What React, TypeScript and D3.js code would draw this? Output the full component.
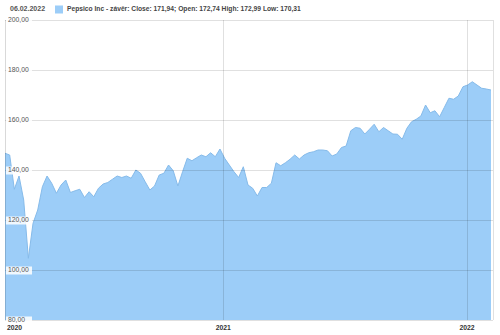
import React from "react";
import * as d3 from "d3";

const values: number[] = [
  146.7, 146.0, 132.3, 137.6, 128.0, 104.7, 118.7, 124.0, 133.3, 137.6,
  134.7, 130.7, 134.0, 136.0, 131.0, 131.7, 132.3, 129.0, 131.3, 129.3,
  132.7, 134.4, 135.0, 136.3, 137.6, 137.0, 137.6, 136.7, 140.0, 138.7,
  135.3, 132.0, 133.6, 138.0, 138.7, 142.0, 139.7, 133.6, 139.3, 144.7,
  143.7, 144.9, 146.0, 145.3, 146.9, 145.3, 148.4, 144.7, 142.0, 139.3,
  137.0, 141.3, 134.0, 132.7, 129.6, 133.0, 133.0, 134.7, 142.9, 141.7,
  142.9, 144.3, 146.0, 144.4, 146.0, 146.9, 147.3, 148.0, 148.0, 147.7,
  145.6, 146.4, 149.0, 149.6, 155.7, 157.0, 156.7, 154.4, 156.3, 158.3,
  155.3, 157.0, 155.7, 154.4, 154.3, 152.3, 156.7, 159.3, 160.3, 161.6,
  166.0, 162.9, 163.7, 161.3, 165.0, 168.7, 168.3, 169.6, 173.3, 174.0,
  175.3, 174.0, 172.7, 172.4, 172.0,
];
const startDate = new Date(2020, 1, 9);
const domainEnd = new Date(2022, 1, 9);
const yTicks: number[] = [200, 180, 160, 140, 120, 100, 80];
const yearTicks: Date[] = [new Date(2020, 0, 1), new Date(2021, 0, 1), new Date(2022, 0, 1)];
const yearLabels: string[] = ["2020", "2021", "2022"];
const legendDate = "06.02.2022";
const legendText = "Pepsico Inc - závěr: Close: 171,94; Open: 172,74 High: 172,99 Low: 170,31";

const data = values.map((v, i) => ({ date: d3.timeWeek.offset(startDate, i), value: v }));

const W = 500, H = 335;
const left = 5, right = 493, top = 20, bottom = 320;
const font = "'Liberation Sans', Arial, sans-serif";

export default function App() {
  const x = d3.scaleTime().domain([startDate, domainEnd]).range([left, right]);
  const y = d3.scaleLinear().domain([80, 200]).range([bottom, top]);
  const fmt = (v: number) => d3.format(".2f")(v).replace(".", ",");
  const area = d3.area<{ date: Date; value: number }>()
    .x((d) => x(d.date)).y0(y(80)).y1((d) => y(d.value));
  const line = d3.line<{ date: Date; value: number }>()
    .x((d) => x(d.date)).y((d) => y(d.value));

  return (
    <svg width={W} height={H} style={{ position: "absolute", left: 0, top: 0, background: "#fff" }}
      fontFamily={font}>
      <path d={area(data) || ""} fill="#9ccdf8" />
      <path d={line(data) || ""} fill="none" stroke="#86bbea" strokeWidth={1} />
      {yTicks.map((t) => (
        <line key={"h" + t} x1={left} x2={right} y1={y(t) + 0.5} y2={y(t) + 0.5}
          stroke="#000" strokeOpacity={0.12} />
      ))}
      {yearTicks.slice(1).map((d, i) => (
        <line key={"v" + i} x1={Math.round(x(d)) + 0.5} x2={Math.round(x(d)) + 0.5} y1={top} y2={bottom}
          stroke="#000" strokeOpacity={0.12} />
      ))}
      <line x1={left + 0.5} x2={left + 0.5} y1={top} y2={bottom} stroke="#000" strokeOpacity={0.15} />
      <line x1={right + 0.5} x2={right + 0.5} y1={top} y2={bottom} stroke="#000" strokeOpacity={0.12} />
      {yTicks.map((t) => (
        <g key={"l" + t}>
          <rect x={left + 1} y={y(t) - 3.5} width={26} height={8} fill="#fff" fillOpacity={0.85} />
          <text x={8} y={y(t) + 2.3} fontSize={6.8} fill="#555">{fmt(t)}</text>
        </g>
      ))}
      {yearTicks.map((d, i) => (
        <text key={"y" + i} x={i === 0 ? 7 : x(d)} y={i === 0 ? 329.5 : 330}
          textAnchor={i === 0 ? "start" : "middle"} fontSize={6.8} fontWeight="bold" fill="#333">
          {yearLabels[i]}
        </text>
      ))}
      <text x={10} y={11} fontSize={7} fontWeight="bold" fill="#555">{legendDate}</text>
      <rect x={55} y={5.5} width={8} height={8} fill="#9ccdf8" />
      <text x={67} y={11} fontSize={6.7} fontWeight="bold" fill="#444">{legendText}</text>
    </svg>
  );
}
